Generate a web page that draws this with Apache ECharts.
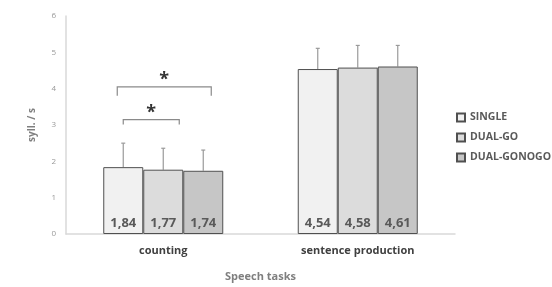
<!DOCTYPE html>
<html>
<head>
<meta charset="utf-8">
<script src="https://cdn.jsdelivr.net/npm/echarts@6/dist/echarts.min.js"></script>
<style>
html, body { margin: 0; padding: 0; background: #fff; }
#chart { width: 552px; height: 287px; }
</style>
</head>
<body>
<div id="chart"></div>
<script>
var categories = ['counting', 'sentence production'];
var seriesNames = ['SINGLE', 'DUAL-GO', 'DUAL-GONOGO'];
var single = [1.84, 4.54];
var dualGo = [1.77, 4.58];
var dualGonogo = [1.74, 4.61];
// upper error bar ends (mean + sd)
var singleErr = [2.50, 5.11];
var dualGoErr = [2.36, 5.19];
var dualGonogoErr = [2.31, 5.19];
// significance brackets: category, bar from, bar to, height
var brackets = [[0, 0, 2, 4.05], [0, 0, 1, 3.15]];

var BAR_W = 40;
var fills = ['#f1f1f1', '#dcdcdc', '#c6c6c6'];
var font = '"Open Sans", sans-serif';

function barX(api, cat, idx) {
    var c = api.coord([cat, 0]);
    return c[0] + (idx - 1) * BAR_W;
}

function errSeries(idx, means, tops) {
    var d = [];
    for (var i = 0; i < means.length; i++) d.push([i, means[i], tops[i]]);
    return {
        type: 'custom',
        data: d,
        z: 1,
        silent: true,
        renderItem: function (params, api) {
            var x = barX(api, api.value(0), idx);
            var y0 = api.coord([api.value(0), api.value(1)])[1];
            var y1 = api.coord([api.value(0), api.value(2)])[1];
            var st = { stroke: '#9a9a9a', lineWidth: 1.2 };
            return {
                type: 'group',
                children: [
                    { type: 'line', shape: { x1: x, y1: y0, x2: x, y2: y1 }, style: st },
                    { type: 'line', shape: { x1: x - 2, y1: y1, x2: x + 2, y2: y1 }, style: st }
                ]
            };
        }
    };
}

function barSeries(idx, name, values) {
    return {
        name: name,
        type: 'bar',
        data: values,
        barWidth: BAR_W,
        barGap: '0%',
        z: 2,
        itemStyle: { color: fills[idx], borderColor: '#505050', borderWidth: 1 },
        label: {
            show: true,
            position: 'insideBottom',
            distance: 4,
            fontFamily: font,
            fontWeight: 'bold',
            fontSize: 13,
            color: '#5a5a5a',
            formatter: function (p) { return p.value.toFixed(2).replace('.', ','); }
        }
    };
}

var chart = echarts.init(document.getElementById('chart'));
var option = {
    animation: false,
    grid: { left: 66, right: 97, top: 16, bottom: 50 },
    legend: {
        orient: 'vertical',
        left: 451,
        top: 107,
        itemGap: 9,
        itemWidth: 8,
        itemHeight: 8,
        icon: 'rect',
        data: seriesNames,
        textStyle: { fontFamily: font, fontSize: 10.5, fontWeight: 'bold', color: '#5a5a5a' }
    },
    xAxis: {
        type: 'category',
        data: categories,
        name: 'Speech tasks',
        nameLocation: 'middle',
        nameGap: 37,
        nameTextStyle: { fontFamily: font, fontSize: 11, fontWeight: 'bold', color: '#7f7f7f' },
        axisLine: { lineStyle: { color: '#d9d9d9', width: 1.5 } },
        axisTick: { show: false },
        axisLabel: { fontFamily: font, fontSize: 11, fontWeight: 'bold', color: '#404040', margin: 11 }
    },
    yAxis: {
        type: 'value',
        min: 0,
        max: 6,
        interval: 1,
        name: 'syll. / s',
        nameLocation: 'middle',
        nameGap: 29,
        nameTextStyle: { fontFamily: font, fontSize: 10, fontWeight: 'bold', color: '#7f7f7f' },
        axisLine: { show: true, lineStyle: { color: '#d9d9d9', width: 1.5 } },
        axisTick: { show: false },
        splitLine: { show: false },
        axisLabel: { fontFamily: font, fontSize: 8, color: '#999', margin: 10 }
    },
    series: [
        barSeries(0, seriesNames[0], single),
        barSeries(1, seriesNames[1], dualGo),
        barSeries(2, seriesNames[2], dualGonogo),
        errSeries(0, single, singleErr),
        errSeries(1, dualGo, dualGoErr),
        errSeries(2, dualGonogo, dualGonogoErr),
        {
            type: 'custom',
            data: brackets,
            silent: true,
            z: 3,
            renderItem: function (params, api) {
                var cat = api.value(0);
                var from = api.value(1), to = api.value(2);
                var y = api.coord([cat, api.value(3)])[1];
                var x1 = barX(api, cat, from) - (to === 2 ? 6 : 0);
                var x2 = barX(api, cat, to) + (to === 2 ? 8 : 16);
                var drop = to === 2 ? 9 : 5;
                var st = { stroke: '#8a8a8a', lineWidth: 1.2, fill: null };
                return {
                    type: 'group',
                    children: [
                        { type: 'polyline', shape: { points: [[x1, y + drop], [x1, y], [x2, y], [x2, y + drop]] }, style: st },
                        { type: 'text', style: { text: '*', x: (x1 + x2) / 2, y: y - 7, align: 'center', verticalAlign: 'middle',
                            font: 'bold 18px ' + font, fill: '#333' } }
                    ]
                };
            }
        }
    ]
};
chart.setOption(option);
</script>
</body>
</html>
